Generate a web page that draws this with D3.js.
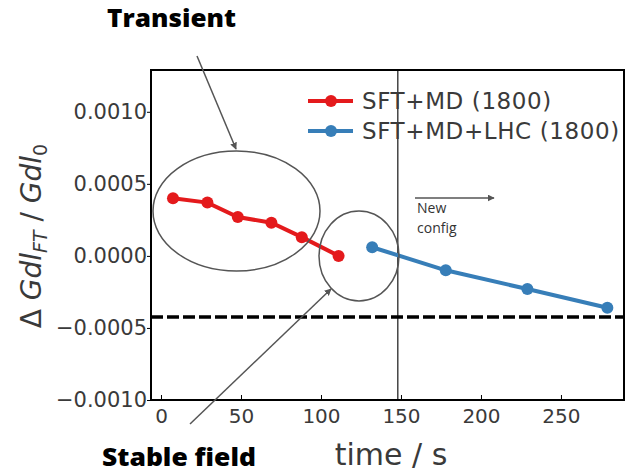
<!DOCTYPE html>
<html>
<head>
<meta charset="utf-8">
<script src="https://cdn.jsdelivr.net/npm/d3@7"></script>
<style>
  body { margin: 0; background: #fff; }
  svg { display: block; }
</style>
</head>
<body>
<div class="chart"></div>
<script>
// time (s) and relative change of integrated field
var redTime = [7.5, 29, 48, 69, 88, 111];
var redVal = [0.00040, 0.00037, 0.00027, 0.00023, 0.00013, 0.0000];
var blueTime = [132, 178, 229, 279];
var blueVal = [0.00006, -0.00010, -0.00023, -0.00036];
var seriesNames = ["SFT+MD (1800)", "SFT+MD+LHC (1800)"];
var xTicks = [0, 50, 100, 150, 200, 250];
var yTicks = [-0.0010, -0.0005, 0.0000, 0.0005, 0.0010];
var configTime = 148;
var limitVal = -0.000424;

var red = "#e41a1c", blue = "#377eb8";

var svg = d3.select(".chart")
    .append("svg")
    .attr("width", 635)
    .attr("height", 476)

var plotL = 151, plotR = 624, plotT = 70, plotB = 400;

var x = d3.scaleLinear().domain([-6.25, 289.4]).range([plotL, plotR]);
var y = d3.scaleLinear().domain([-0.0010, 0.00129]).range([plotB, plotT]);

// axes
var xAxis = svg.append("g")
    .attr("transform", "translate(0," + plotB + ")")
    .call(d3.axisBottom(x).tickValues(xTicks).tickSize(-5).tickPadding(9).tickFormat(d3.format("d")))
xAxis.select(".domain").remove()
xAxis.selectAll("text")
    .style("font-size", "20px")
    .attr("font-family", "DejaVu Sans")
    .attr("fill", "#3a3a3a")

var yAxis = svg.append("g")
    .attr("transform", "translate(" + plotL + ",0)")
    .call(d3.axisLeft(y).tickValues(yTicks).tickSize(4).tickPadding(0)
        .tickFormat(function(d) { return (d < 0 ? "\u22120." : "0.") + d3.format("04d")(Math.round(Math.abs(d) * 10000)); }))
yAxis.select(".domain").remove()
yAxis.selectAll("text")
    .style("font-size", "21px")
    .attr("font-family", "DejaVu Sans")
    .attr("fill", "#3a3a3a")

// vertical marker for new configuration
svg.append("line")
    .attr("x1", x(configTime)).attr("x2", x(configTime))
    .attr("y1", plotT).attr("y2", plotB)
    .attr("stroke", "#444")
    .attr("stroke-width", 1.5)

// dashed limit line
svg.append("line")
    .attr("x1", plotL).attr("x2", plotR)
    .attr("y1", y(limitVal)).attr("y2", y(limitVal))
    .attr("stroke", "#000")
    .attr("stroke-width", 3.5)
    .attr("stroke-dasharray", "12,4")

// series
function drawSeries(ts, vs, col) {
    var pts = ts.map(function(t, i) { return [t, vs[i]]; });
    svg.append("path")
        .datum(pts)
        .attr("fill", "none")
        .attr("stroke", col)
        .attr("stroke-width", 4)
        .attr("d", d3.line().x(function(d) { return x(d[0]); }).y(function(d) { return y(d[1]); }))
    svg.selectAll(null)
        .data(pts)
        .enter()
        .append("circle")
        .attr("cx", function(d) { return x(d[0]); })
        .attr("cy", function(d) { return y(d[1]); })
        .attr("r", 6)
        .attr("fill", col)
}
drawSeries(redTime, redVal, red);
drawSeries(blueTime, blueVal, blue);

// frame
svg.append("rect")
    .attr("x", plotL).attr("y", plotT)
    .attr("width", plotR - plotL).attr("height", plotB - plotT)
    .attr("fill", "none")
    .attr("stroke", "#000")
    .attr("stroke-width", 2)

// legend
var legCols = [red, blue];
for (var i = 0; i < 2; i++) {
    var ly = 101 + 30 * i;
    svg.append("line")
        .attr("x1", 308).attr("x2", 353)
        .attr("y1", ly).attr("y2", ly)
        .attr("stroke", legCols[i])
        .attr("stroke-width", 4)
    svg.append("circle")
        .attr("cx", 331).attr("cy", ly).attr("r", 6)
        .attr("fill", legCols[i])
    svg.append("text")
        .attr("x", 362).attr("y", ly + 8)
        .text(seriesNames[i])
        .style("font-size", "23px")
        .style("letter-spacing", "0.6px")
        .attr("font-family", "DejaVu Sans")
        .attr("fill", "#3a3a3a")
}

// axis titles
svg.append("text")
    .attr("x", 391).attr("y", 465)
    .attr("text-anchor", "middle")
    .text("time / s")
    .style("font-size", "30px")
    .attr("font-family", "DejaVu Sans")
    .attr("fill", "#3a3a3a")

var ylab = svg.append("text")
    .attr("transform", "translate(41,236) rotate(-90)")
    .attr("text-anchor", "middle")
    .style("font-size", "28px")
    .attr("font-family", "DejaVu Sans")
    .attr("fill", "#3a3a3a")
ylab.append("tspan").text("\u0394 ")
ylab.append("tspan").attr("font-style", "italic").text("Gdl")
ylab.append("tspan").attr("font-style", "italic").attr("font-size", "19px").attr("dy", 6).text("FT")
ylab.append("tspan").attr("dy", -6).text(" / ")
ylab.append("tspan").attr("font-style", "italic").text("Gdl")
ylab.append("tspan").attr("font-size", "19px").attr("dy", 6).text("0")

// annotations
var defs = svg.append("defs");
defs.append("marker")
    .attr("id", "arr")
    .attr("viewBox", "0 0 10 10")
    .attr("refX", 9).attr("refY", 5)
    .attr("markerWidth", 7).attr("markerHeight", 7)
    .attr("markerUnits", "userSpaceOnUse")
    .attr("orient", "auto")
    .append("path")
    .attr("d", "M0,0 L10,5 L0,10 z")
    .attr("fill", "#555")

var annFont = "Open Sans";
svg.append("text")
    .attr("x", 107).attr("y", 27)
    .text("Transient")
    .style("font-size", "24px")
    .attr("font-family", annFont)
    .attr("font-weight", 800)
    .attr("textLength", 129)
    .attr("lengthAdjust", "spacingAndGlyphs")
    .attr("fill", "#000")

svg.append("text")
    .attr("x", 102).attr("y", 466)
    .text("Stable field")
    .style("font-size", "25px")
    .attr("font-family", annFont)
    .attr("font-weight", 800)
    .attr("textLength", 154)
    .attr("lengthAdjust", "spacingAndGlyphs")
    .attr("fill", "#000")

svg.append("ellipse")
    .attr("cx", 236.5).attr("cy", 211).attr("rx", 83.5).attr("ry", 60)
    .attr("fill", "none").attr("stroke", "#555").attr("stroke-width", 1.5)
svg.append("ellipse")
    .attr("cx", 359).attr("cy", 256).attr("rx", 40).attr("ry", 45)
    .attr("fill", "none").attr("stroke", "#555").attr("stroke-width", 1.5)

svg.append("line")
    .attr("x1", 197).attr("y1", 56).attr("x2", 236).attr("y2", 149)
    .attr("stroke", "#555").attr("stroke-width", 1.5)
    .attr("marker-end", "url(#arr)")
svg.append("line")
    .attr("x1", 190).attr("y1", 424).attr("x2", 331).attr("y2", 289)
    .attr("stroke", "#555").attr("stroke-width", 1.5)
    .attr("marker-end", "url(#arr)")
svg.append("line")
    .attr("x1", 415).attr("y1", 198).attr("x2", 494).attr("y2", 198)
    .attr("stroke", "#555").attr("stroke-width", 1.5)
    .attr("marker-end", "url(#arr)")

svg.append("text")
    .attr("x", 417).attr("y", 213)
    .text("New")
    .style("font-size", "14px")
    .attr("font-family", annFont)
    .attr("fill", "#333")
svg.append("text")
    .attr("x", 417).attr("y", 233)
    .text("config")
    .style("font-size", "14px")
    .attr("font-family", annFont)
    .attr("fill", "#333")
</script>
</body>
</html>
